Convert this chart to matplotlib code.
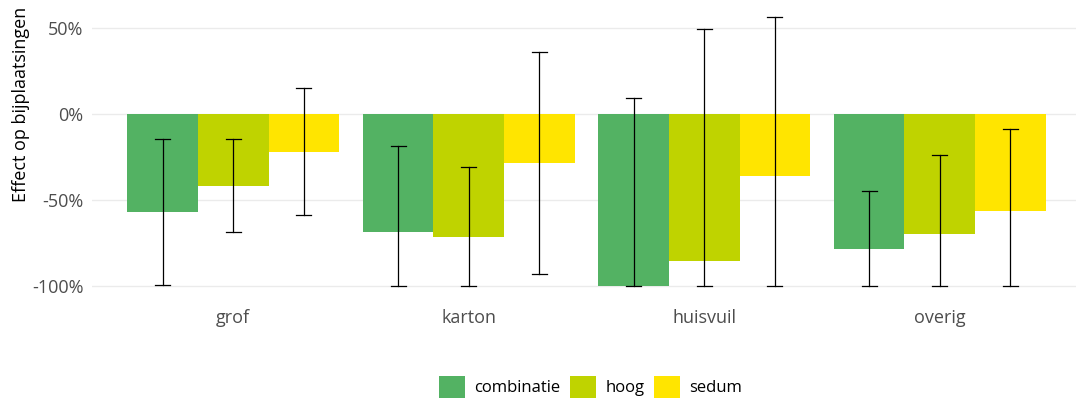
import matplotlib
matplotlib.use("Agg")
import matplotlib.pyplot as plt
from matplotlib.patches import Patch
import numpy as np

categories = ["grof", "karton", "huisvuil", "overig"]
series = ["combinatie", "hoog", "sedum"]
colors = ["#53B263", "#BFD300", "#FFE500"]
values = {
    "combinatie": [-57, -69, -100, -79],
    "hoog": [-42, -71.5, -85.5, -70],
    "sedum": [-22, -28.5, -36, -56.5],
}
err_low = {
    "combinatie": [-99.5, -100, -100, -100],
    "hoog": [-69, -100, -100, -100],
    "sedum": [-59, -93, -100, -100],
}
err_high = {
    "combinatie": [-15, -19, 9, -45],
    "hoog": [-14.5, -31, 49, -24],
    "sedum": [15, 36, 56, -9],
}
yticks = [50, 0, -50, -100]
ytick_labels = ["50%", "0%", "-50%", "-100%"]

plt.rcParams["font.family"] = ["Open Sans", "DejaVu Sans"]
fig = plt.figure(figsize=(10.76, 4.0), dpi=100)
ax = fig.add_axes([92/1076, 1 - 299/400, (1076 - 92)/1076, (299 - 4)/400])

x = np.arange(len(categories)) + 1
w = 0.3
for i, s in enumerate(series):
    xs = x + (i - 1) * w
    ax.bar(xs, values[s], width=w, color=colors[i], zorder=2, linewidth=0)
    lo = np.array(err_low[s]); hi = np.array(err_high[s])
    for xi, l, h in zip(xs, lo, hi):
        ax.plot([xi, xi], [l, h], color="black", lw=0.9, zorder=3)
        ax.plot([xi - 0.032, xi + 0.032], [l, l], color="black", lw=0.9, zorder=3)
        ax.plot([xi - 0.032, xi + 0.032], [h, h], color="black", lw=0.9, zorder=3)

ax.set_xlim(0.4, 4.6 + (1076 - 1081) / 235)
ax.set_ylim(-107.8, 63.8)
ax.set_yticks(yticks)
ax.set_yticklabels(ytick_labels)
ax.set_xticks(x)
ax.set_xticklabels(categories)
ax.grid(axis="y", color="#EBEBEB", lw=1, zorder=0)
ax.tick_params(axis="both", length=0, labelsize=13, colors="#4D4D4D")
ax.tick_params(axis="y", pad=6)
ax.tick_params(axis="x", pad=7)
for sp in ax.spines.values():
    sp.set_visible(False)
ax.set_ylabel("Effect op bijplaatsingen", fontsize=13, color="black")
ax.yaxis.set_label_coords(-0.063, 0.661)

handles = [Patch(facecolor=c, edgecolor="none") for c in colors]
fig.legend(handles, series, loc="center", bbox_to_anchor=(590.5/1076, 1 - 387/400),
           ncol=3, frameon=False, fontsize=12, handlelength=1.6, handleheight=1.6,
           columnspacing=0.55, handletextpad=0.55, borderpad=0)

fig.savefig("out.png", dpi=100)
